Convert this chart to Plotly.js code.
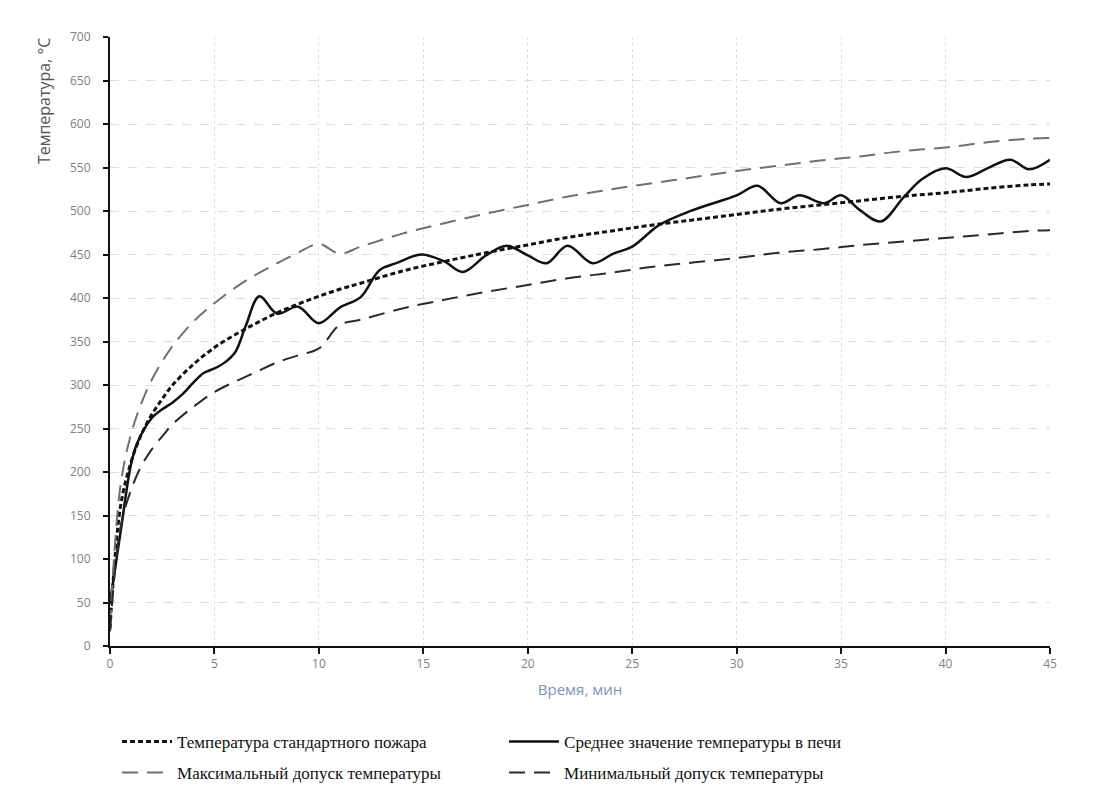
<!DOCTYPE html>
<html>
<head>
<meta charset="utf-8">
<script src="https://cdn.plot.ly/plotly-3.0.1.min.js"></script>
<style>html,body{margin:0;padding:0;background:#fff;}#chart{width:1093px;height:789px;}</style>
</head>
<body>
<div id="chart"></div>
<script>
// Time axis (minutes) and series (°C)
const timeStd = [0,0.5,1,1.5,2,2.5,3,4,5,6,7,8,9,10,11,12,14,16,18,20,22,24,26,28,30,32,34,36,38,40,42,44,45];
const tempStd = [20,160,211,243,266,284,300,324,343,358,371,383,393,402,410,417,431,442,452,461,470,477,484,490,496,502,507,512,517,521,526,530,531];
const tempMax = [23,184,243,279,306,327,345,373,394,412,427,440,452,462,451,459,474,486,497,507,517,525,532,539,546,552,558,563,569,573,579,583,584];
const tempMin = [17,136,179,207,226,241,255,275,292,304,315,326,334,342,369,375,388,398,407,415,423,429,436,441,446,452,456,461,465,469,473,477,478];

const timeAvg = [0,0.5,1,1.3,2,2.5,3,3.5,4,4.5,5,5.5,6,6.5,7.15,8,9,10,11,12,12.9,13.7,14.9,16,16.9,18,19,20,20.9,21.9,23.1,24.1,25,26.3,27.9,30,31,32.1,33,34.2,35,35.9,36.9,38,38.9,40,41,42,43.1,44,45];
const tempAvg = [50,130,208,233,262,272,280,290,303,314,319,326,338,368,402,382,390,371,389,401,432,440,450,442,430,449,460,449,440,460,440,451,459,484,501,518,529,509,518,509,518,501,488,516,537,549,539,549,559,548,559];

const names = [
  "Температура стандартного пожара",
  "Среднее значение температуры в печи",
  "Максимальный допуск температуры",
  "Минимальный допуск температуры"
];
const xTicks = [0,5,10,15,20,25,30,35,40,45];
const yTicks = [0,50,100,150,200,250,300,350,400,450,500,550,600,650,700];

const traces = [
  {x: timeStd, y: tempStd, name: names[0], mode: "lines", legend: "legend",
   line: {color: "#111", width: 3, dash: "5px,3px", shape: "spline"}},
  {x: timeAvg, y: tempAvg, name: names[1], mode: "lines", legend: "legend",
   line: {color: "#111", width: 2.5, shape: "spline"}},
  {x: timeStd, y: tempMax, name: names[2], mode: "lines", legend: "legend2",
   line: {color: "#707070", width: 2, dash: "16px,9px", shape: "spline"}},
  {x: timeStd, y: tempMin, name: names[3], mode: "lines", legend: "legend2",
   line: {color: "#2a2a2a", width: 2, dash: "16px,9px", shape: "spline"}}
];

const legendCommon = {
  orientation: "h", xanchor: "left", yanchor: "middle", x: 0.0075,
  yref: "container",
  font: {family: "Liberation Serif, Times New Roman, serif", size: 17, color: "#111"},
  bgcolor: "rgba(0,0,0,0)", itemwidth: 50, entrywidth: 322, traceorder: "normal"
};

const layout = {
  width: 1093, height: 789,
  margin: {l: 110, r: 43, t: 37, b: 143, autoexpand: false},
  paper_bgcolor: "#fff", plot_bgcolor: "#fff",
  font: {family: "Open Sans, sans-serif"},
  showlegend: true,
  xaxis: {
    range: [0, 45], tickvals: xTicks, ticktext: xTicks.map(String),
    showline: true, linecolor: "#111", linewidth: 2,
    ticks: "outside", ticklen: 6, tickwidth: 2, tickcolor: "#111",
    tickfont: {size: 12, color: "#808080"},
    showgrid: true, gridcolor: "#dedede", griddash: "dot", gridwidth: 1,
    zeroline: false, automargin: false,
    title: {text: "Время, мин", font: {size: 15, color: "#7b93b8"}, standoff: 13}
  },
  yaxis: {
    range: [0, 700], tickvals: yTicks, ticktext: yTicks.map(String),
    showline: true, linecolor: "#111", linewidth: 2,
    ticks: "outside", ticklen: 5, tickwidth: 2, tickcolor: "#111",
    tickfont: {size: 12, color: "#808080"}, ticklabelstandoff: 10,
    showgrid: true, gridcolor: "#dedede", griddash: "dash", gridwidth: 1,
    zeroline: false, automargin: false
  },
  legend: Object.assign({}, legendCommon, {y: 0.0596}),
  legend2: Object.assign({}, legendCommon, {y: 0.0203}),
  annotations: [{
    text: "Температура, °С", xref: "paper", yref: "paper",
    x: -0.07, y: 0.895, xanchor: "center", yanchor: "middle",
    textangle: -90, showarrow: false,
    font: {size: 16, color: "#555"}
  }]
};

Plotly.newPlot("chart", traces, layout, {displayModeBar: false, staticPlot: true});
</script>
</body>
</html>
